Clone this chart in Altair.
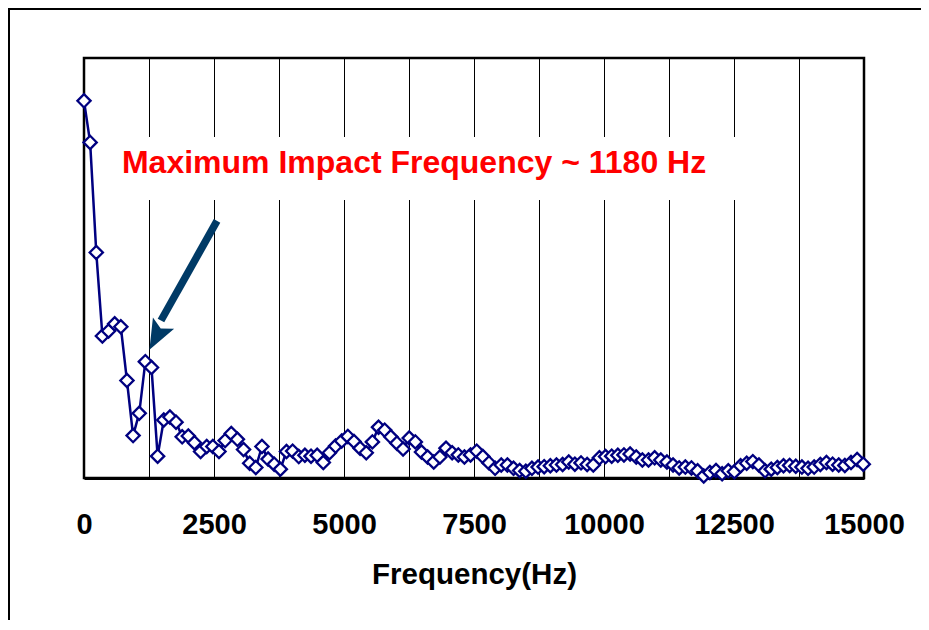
import altair as alt
import pandas as pd

# ---- data ----
FREQ_STEP = 118  # Hz between spectral lines
amplitude = [
    0.898, 0.799, 0.537, 0.338, 0.350, 0.367, 0.360, 0.232, 0.101, 0.154,
    0.277, 0.263, 0.052, 0.138, 0.145, 0.133, 0.098, 0.100, 0.084, 0.063,
    0.075, 0.075, 0.063, 0.089, 0.106, 0.092, 0.068, 0.035, 0.025, 0.075,
    0.045, 0.033, 0.021, 0.063, 0.064, 0.051, 0.054, 0.052, 0.054, 0.037,
    0.060, 0.076, 0.088, 0.099, 0.087, 0.071, 0.060, 0.086, 0.121, 0.114,
    0.098, 0.083, 0.069, 0.095, 0.086, 0.062, 0.050, 0.038, 0.050, 0.071,
    0.060, 0.055, 0.050, 0.055, 0.064, 0.051, 0.036, 0.023, 0.031, 0.031,
    0.023, 0.018, 0.016, 0.023, 0.026, 0.027, 0.029, 0.031, 0.032, 0.038,
    0.033, 0.036, 0.032, 0.031, 0.048, 0.051, 0.052, 0.054, 0.055, 0.057,
    0.050, 0.043, 0.043, 0.048, 0.043, 0.038, 0.031, 0.024, 0.026, 0.024,
    0.017, 0.005, 0.013, 0.018, 0.010, 0.017, 0.015, 0.029, 0.035, 0.039,
    0.031, 0.017, 0.021, 0.025, 0.029, 0.030, 0.028, 0.026, 0.023, 0.026,
    0.032, 0.037, 0.033, 0.031, 0.030, 0.037, 0.044, 0.033,
]
frequency = [i * FREQ_STEP for i in range(len(amplitude))]

grid_ticks = [0, 1250, 2500, 3750, 5000, 6250, 7500, 8750, 10000,
              11250, 12500, 13750, 15000]

annot_text = ["Maximum Impact Frequency ~ 1180 Hz"]
annot_pos = {"f": [730], "a": [0.726]}
annot_box = {"f": [600], "f2": [12700], "a": [0.812], "a2": [0.662]}
arrow_shaft = {"f": [2558], "a": [0.612], "f2": [1480], "a2": [0.375]}
arrow_head = {"f": [1394], "a": [0.337]}

FONT = "Liberation Sans"
NAVY = "#000080"
ARROW = "#003A66"

df = pd.DataFrame({"Frequency": frequency, "Amplitude": amplitude})

xs = alt.Scale(domain=[0, 15000], nice=False)
ys = alt.Scale(domain=[0, 1], nice=False)
xaxis = alt.Axis(values=grid_ticks, format="d",
                 labelExpr="datum.value % 2500 == 0 ? datum.label : ''",
                 title="Frequency(Hz)")


def X(field):
    return alt.X(field, scale=xs, axis=xaxis)


def Y(field):
    return alt.Y(field, scale=ys, axis=None)


base = alt.Chart(df)

line = base.mark_line(color=NAVY, strokeWidth=2.5).encode(
    x=X("Frequency:Q"), y=Y("Amplitude:Q"),
)

points = base.mark_point(shape="diamond", filled=True, fill="white",
                         stroke=NAVY, strokeWidth=2.3, size=175, opacity=1).encode(
    x=X("Frequency:Q"), y=Y("Amplitude:Q"),
)

box = alt.Chart(pd.DataFrame(annot_box)).mark_rect(color="white").encode(
    x=X("f:Q"), x2="f2:Q", y=Y("a:Q"), y2="a2:Q",
)

text = alt.Chart(pd.DataFrame({**annot_pos, "t": annot_text})).mark_text(
    align="left", baseline="alphabetic", font=FONT, fontSize=32,
    fontWeight="bold", color="#FF0000",
).encode(
    x=X("f:Q"), y=Y("a:Q"), text="t:N",
)

shaft = alt.Chart(pd.DataFrame(arrow_shaft)).mark_rule(
    color=ARROW, strokeWidth=7.5).encode(
    x=X("f:Q"), x2="f2:Q", y=Y("a:Q"), y2="a2:Q",
)

head = alt.Chart(pd.DataFrame(arrow_head)).mark_point(
    shape="M0,-1 L0.8,1 L0,0.6 L-0.8,1 Z", filled=True, color=ARROW,
    opacity=1, size=900, angle=208,
).encode(
    x=X("f:Q"), y=Y("a:Q"),
)

frame_top = alt.Chart(pd.DataFrame({"k": [1]})).mark_rule(
    color="black", strokeWidth=2).encode(
    x=alt.value(-76), x2=alt.value(1200), y=alt.value(-49),
)
frame_left = alt.Chart(pd.DataFrame({"k": [1]})).mark_rule(
    color="black", strokeWidth=2).encode(
    x=alt.value(-75), y=alt.value(-50), y2=alt.value(900),
)

chart = alt.layer(frame_top, frame_left, box, line, points, text, shaft, head).properties(
    width=780, height=420,
    autosize=alt.AutoSizeParams(type="none"),
    padding={"left": 76, "top": 50, "right": 57, "bottom": 142},
).configure_view(
    stroke="black", strokeWidth=2.5,
).configure_axis(
    grid=True, gridColor="black", gridWidth=1, gridOpacity=1,
    domain=True, domainColor="black", domainWidth=3,
    ticks=False, labelFont=FONT, labelFontSize=29, labelFontWeight="bold",
    labelColor="black", labelPadding=32, labelFlush=False,
    titleFont=FONT, titleFontSize=29.5, titleFontWeight="bold",
    titleColor="black", titlePadding=21,
)

chart.save("out.html", embed_options={"renderer": "svg", "actions": False})
